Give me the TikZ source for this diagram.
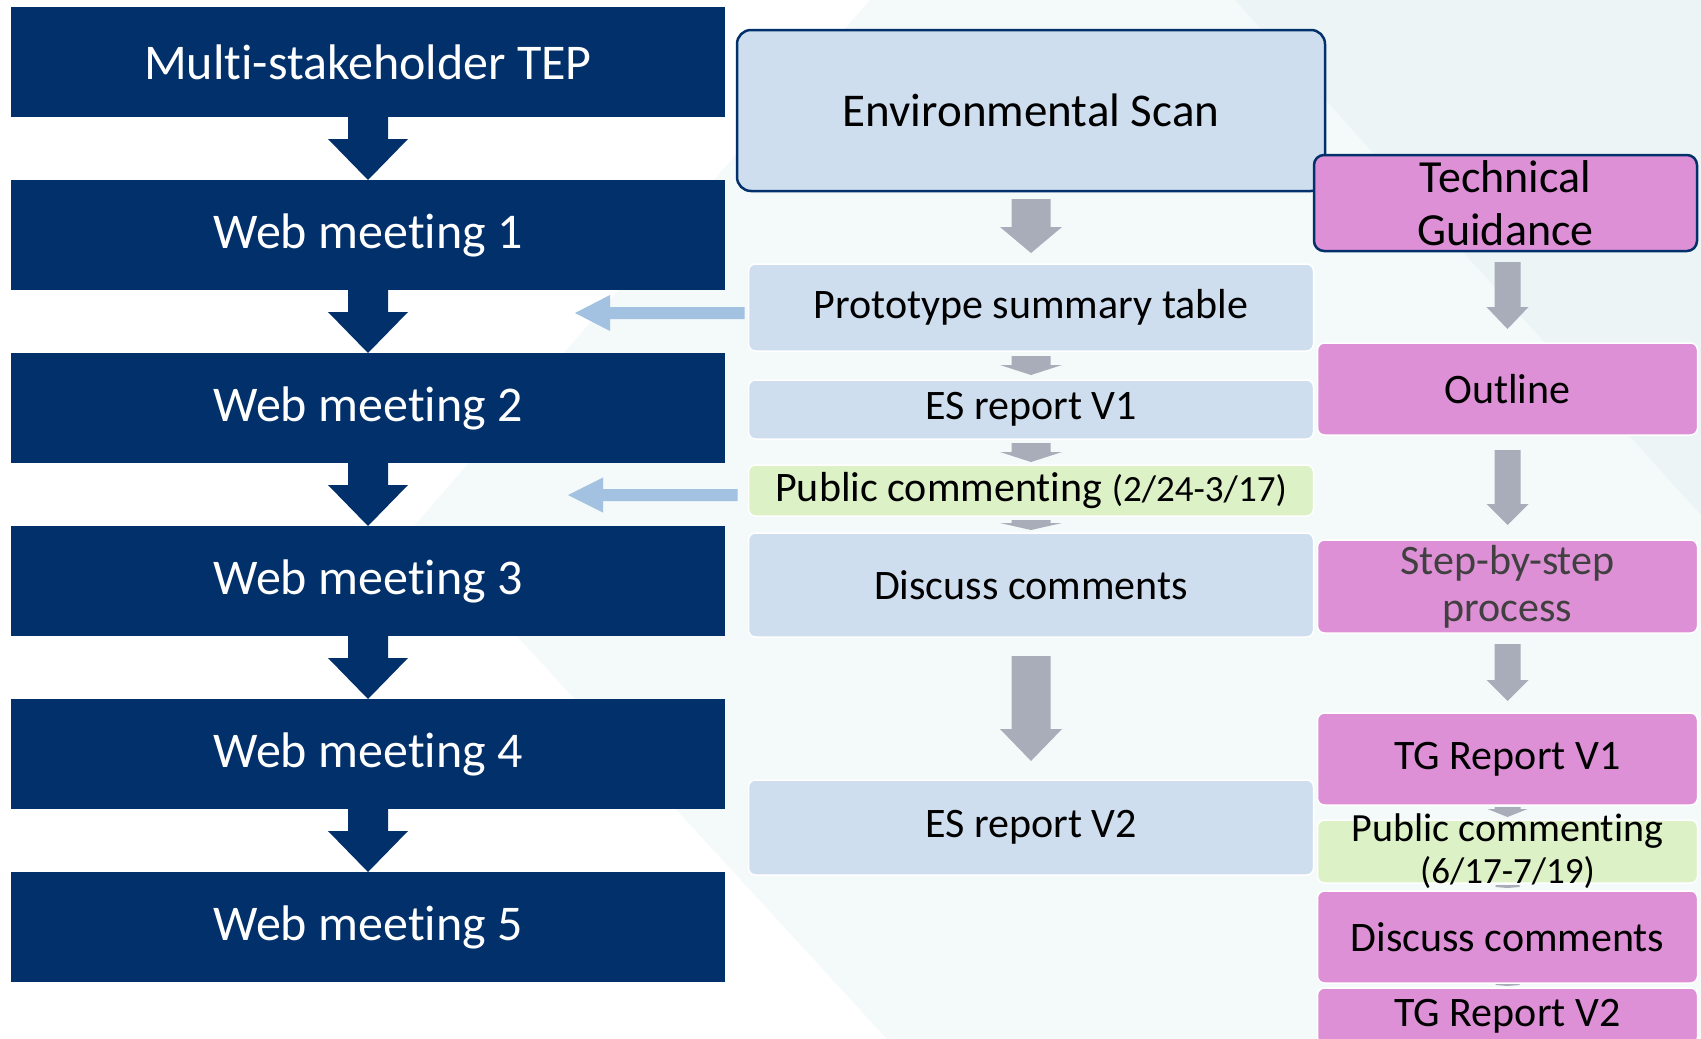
\documentclass[tikz,border=0pt]{standalone}
\usepackage{fontspec}
\setmainfont{Carlito}[Ligatures=NoCommon]
\usepackage{tikz}
\usetikzlibrary{positioning,calc}
\definecolor{tepnavy}{RGB}{2,48,107}
\definecolor{esblue}{RGB}{207,222,238}
\definecolor{pubgreen}{RGB}{221,241,199}
\definecolor{tgpink}{RGB}{221,144,214}
\definecolor{arrowgray}{RGB}{169,173,186}
\definecolor{sideblue}{RGB}{163,193,224}
\definecolor{bglight}{RGB}{244,249,250}
\definecolor{bgdark}{RGB}{236,244,246}
\definecolor{stepgray}{RGB}{64,64,64}
\tikzstyle{meeting}=[fill=tepnavy,text=white,minimum width=714pt,minimum height=110pt,inner sep=0pt,outer sep=0pt,font=\fontsize{50}{60}\selectfont]
\tikzstyle{esbox}=[fill=esblue,draw=white,line width=1.5pt,rounded corners=7pt,minimum width=565pt,inner sep=0pt,outer sep=0pt,font=\fontsize{42}{50}\selectfont]
\tikzstyle{pubbox}=[esbox,fill=pubgreen]
\tikzstyle{tgbox}=[esbox,fill=tgpink,minimum width=380pt]
\tikzstyle{headbox}=[draw=tepnavy,line width=2.5pt]
\newcommand{\blockarrow}[8][]{%
  \fill[#1] ($(#2.south -| #3.north)+(-#6,#4)$) -- ($(#3.north)+(-#6,-#5-#8)$)
    -- ($(#3.north)+(-#7,-#5-#8)$) -- ($(#3.north)+(0,-#5)$)
    -- ($(#3.north)+(#7,-#5-#8)$) -- ($(#3.north)+(#6,-#5-#8)$)
    -- ($(#2.south -| #3.north)+(#6,#4)$) -- cycle;}
\newcommand{\sidearrow}[7][]{%
  \fill[#1] ($(#2.west |- #3)+(-#4,-#5)$) -- ($(#3)+(#7,-#5)$) -- ($(#3)+(#7,-#6)$) -- (#3)
    -- ($(#3)+(#7,#6)$) -- ($(#3)+(#7,#5)$) -- ($(#2.west |- #3)+(-#4,#5)$) -- cycle;}

\begin{document}
\begin{tikzpicture}[x=1pt,y=-1pt]
\useasboundingbox (0,0) rectangle (1701,1039);
\clip (0,0) rectangle (1701,1039);
\fill[white] (0,0) rectangle (1701,1039);
\fill[bglight] (870,0) -- (1701,0) -- (1701,1039) -- (887,1039) -- (415,525) -- cycle;
\fill[bgdark] (1235,0) -- (1701,0) -- (1701,515) -- cycle;

\node[meeting] (tep) at (368,62) {Multi-stakeholder TEP};
\node[meeting,below=63pt of tep] (wm1) {Web meeting 1};
\node[meeting,below=63pt of wm1] (wm2) {Web meeting 2};
\node[meeting,below=63pt of wm2] (wm3) {Web meeting 3};
\node[meeting,below=63pt of wm3] (wm4) {Web meeting 4};
\node[meeting,below=63pt of wm4] (wm5) {Web meeting 5};

\node[esbox,headbox,rounded corners=14pt,minimum width=588pt,minimum height=161pt,font=\fontsize{47}{56}\selectfont] (env) at (1031,110.5) {Environmental Scan};
\node[esbox,minimum height=87pt,below=73pt of env] (proto) {Prototype summary table};
\node[esbox,minimum height=59pt,below=29pt of proto] (esv1) {ES report V1};
\node[pubbox,minimum height=51pt,below=26pt of esv1] (pub1) {Public commenting {\fontsize{37}{44}\selectfont(2/24-3/17)}};
\node[esbox,minimum height=104pt,below=17pt of pub1] (disc1) {Discuss comments};
\node[esbox,minimum height=95pt,below=143pt of disc1] (esv2) {ES report V2};

\node[tgbox,headbox,rounded corners=10pt,minimum width=383pt,minimum height=96pt,align=center,font=\fontsize{46}{53}\selectfont] (tg) at (1505.5,203) {Technical\\Guidance};
\node[tgbox,minimum height=92pt,below=92pt of tg,xshift=2pt] (outline) {Outline};
\node[tgbox,minimum height=93pt,below=105pt of outline,align=center,text=stepgray,font=\fontsize{42}{47}\selectfont] (step) {Step-by-step\\process};
\node[tgbox,minimum height=92pt,below=80pt of step] (tgv1) {TG Report V1};
\node[pubbox,minimum width=380pt,minimum height=63pt,inner ysep=-7pt,below=15pt of tgv1,align=center,font=\fontsize{40}{42}\selectfont] (pub2) {Public commenting\\{\fontsize{37}{42}\selectfont(6/17-7/19)}};
\node[tgbox,minimum height=92pt,below=8pt of pub2] (disc2) {Discuss comments};
\node[tgbox,minimum height=56pt,below=5pt of disc2] (tgv2) {TG Report V2};

\blockarrow[tepnavy]{tep}{wm1}{0}{0}{20}{40}{41}
\blockarrow[tepnavy]{wm1}{wm2}{0}{0}{20}{40}{41}
\blockarrow[tepnavy]{wm2}{wm3}{0}{0}{20}{40}{41}
\blockarrow[tepnavy]{wm3}{wm4}{0}{0}{20}{40}{41}
\blockarrow[tepnavy]{wm4}{wm5}{0}{0}{20}{40}{41}

\blockarrow[arrowgray]{env}{proto}{8}{11}{19.5}{31}{26}
\blockarrow[arrowgray]{proto}{esv1}{5}{5}{19.5}{31}{10}
\blockarrow[arrowgray]{esv1}{pub1}{4}{3}{19.5}{31}{10}
\blockarrow[arrowgray]{pub1}{disc1}{4}{3}{19.5}{31}{7}
\blockarrow[arrowgray]{disc1}{esv2}{19}{19}{19.5}{31}{32}
\blockarrow[arrowgray]{tg}{outline}{11}{14}{13}{21}{22}
\blockarrow[arrowgray]{outline}{step}{15}{15}{13}{21}{21}
\blockarrow[arrowgray]{step}{tgv1}{11}{12}{13}{21}{21}
\blockarrow[arrowgray]{tgv1}{pub2}{2}{3}{13}{20}{8}
\blockarrow[arrowgray]{pub2}{disc2}{2}{3}{12}{12}{1}
\blockarrow[arrowgray]{disc2}{tgv2}{1}{2}{12}{12}{1}

\coordinate (tipA) at (575,313);
\coordinate (tipB) at (568,495);
\sidearrow[sideblue]{proto}{tipA}{4}{6}{18}{35}
\sidearrow[sideblue]{pub1}{tipB}{11}{6}{17.5}{35}
\end{tikzpicture}
\end{document}
